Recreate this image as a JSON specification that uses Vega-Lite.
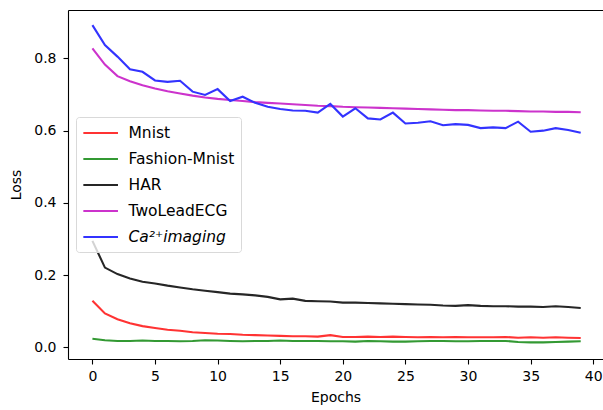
{
  "$schema": "https://vega.github.io/schema/vega-lite/v6.json",
  "width": 535,
  "height": 349,
  "autosize": {"type": "none"},
  "padding": {"left": 68, "top": 10, "right": 0, "bottom": 51},
  "background": "white",
  "config": {
    "view": {"stroke": null},
    "font": "DejaVu Sans",
    "axis": {
      "domainColor": "black",
      "domainWidth": 1.1,
      "tickColor": "black",
      "tickWidth": 1.1,
      "tickSize": 5,
      "labelFont": "DejaVu Sans",
      "labelFontSize": 14,
      "labelColor": "black",
      "titleFont": "DejaVu Sans",
      "titleFontSize": 14,
      "titleFontWeight": "normal",
      "titleColor": "black",
      "grid": false
    }
  },
  "data": {
    "values": [
      {"epoch": 0, "Mnist": 0.129, "FashionMnist": 0.024, "HAR": 0.295, "TwoLeadECG": 0.828, "Ca": 0.892},
      {"epoch": 1, "Mnist": 0.094, "FashionMnist": 0.020, "HAR": 0.221, "TwoLeadECG": 0.783, "Ca": 0.837},
      {"epoch": 2, "Mnist": 0.078, "FashionMnist": 0.018, "HAR": 0.203, "TwoLeadECG": 0.751, "Ca": 0.805},
      {"epoch": 3, "Mnist": 0.067, "FashionMnist": 0.018, "HAR": 0.191, "TwoLeadECG": 0.737, "Ca": 0.770},
      {"epoch": 4, "Mnist": 0.059, "FashionMnist": 0.019, "HAR": 0.182, "TwoLeadECG": 0.726, "Ca": 0.763},
      {"epoch": 5, "Mnist": 0.054, "FashionMnist": 0.018, "HAR": 0.177, "TwoLeadECG": 0.717, "Ca": 0.739},
      {"epoch": 6, "Mnist": 0.049, "FashionMnist": 0.018, "HAR": 0.171, "TwoLeadECG": 0.709, "Ca": 0.735},
      {"epoch": 7, "Mnist": 0.046, "FashionMnist": 0.017, "HAR": 0.166, "TwoLeadECG": 0.703, "Ca": 0.738},
      {"epoch": 8, "Mnist": 0.042, "FashionMnist": 0.018, "HAR": 0.161, "TwoLeadECG": 0.697, "Ca": 0.708},
      {"epoch": 9, "Mnist": 0.040, "FashionMnist": 0.020, "HAR": 0.157, "TwoLeadECG": 0.692, "Ca": 0.699},
      {"epoch": 10, "Mnist": 0.038, "FashionMnist": 0.019, "HAR": 0.153, "TwoLeadECG": 0.688, "Ca": 0.715},
      {"epoch": 11, "Mnist": 0.037, "FashionMnist": 0.018, "HAR": 0.149, "TwoLeadECG": 0.685, "Ca": 0.682},
      {"epoch": 12, "Mnist": 0.035, "FashionMnist": 0.017, "HAR": 0.147, "TwoLeadECG": 0.682, "Ca": 0.694},
      {"epoch": 13, "Mnist": 0.034, "FashionMnist": 0.018, "HAR": 0.144, "TwoLeadECG": 0.679, "Ca": 0.677},
      {"epoch": 14, "Mnist": 0.033, "FashionMnist": 0.018, "HAR": 0.140, "TwoLeadECG": 0.677, "Ca": 0.666},
      {"epoch": 15, "Mnist": 0.032, "FashionMnist": 0.019, "HAR": 0.133, "TwoLeadECG": 0.675, "Ca": 0.660},
      {"epoch": 16, "Mnist": 0.031, "FashionMnist": 0.018, "HAR": 0.135, "TwoLeadECG": 0.673, "Ca": 0.656},
      {"epoch": 17, "Mnist": 0.031, "FashionMnist": 0.018, "HAR": 0.129, "TwoLeadECG": 0.671, "Ca": 0.655},
      {"epoch": 18, "Mnist": 0.030, "FashionMnist": 0.018, "HAR": 0.128, "TwoLeadECG": 0.669, "Ca": 0.650},
      {"epoch": 19, "Mnist": 0.034, "FashionMnist": 0.017, "HAR": 0.127, "TwoLeadECG": 0.668, "Ca": 0.674},
      {"epoch": 20, "Mnist": 0.029, "FashionMnist": 0.017, "HAR": 0.124, "TwoLeadECG": 0.666, "Ca": 0.639},
      {"epoch": 21, "Mnist": 0.029, "FashionMnist": 0.016, "HAR": 0.124, "TwoLeadECG": 0.665, "Ca": 0.662},
      {"epoch": 22, "Mnist": 0.030, "FashionMnist": 0.018, "HAR": 0.123, "TwoLeadECG": 0.664, "Ca": 0.634},
      {"epoch": 23, "Mnist": 0.029, "FashionMnist": 0.017, "HAR": 0.122, "TwoLeadECG": 0.663, "Ca": 0.631},
      {"epoch": 24, "Mnist": 0.030, "FashionMnist": 0.016, "HAR": 0.121, "TwoLeadECG": 0.662, "Ca": 0.650},
      {"epoch": 25, "Mnist": 0.029, "FashionMnist": 0.016, "HAR": 0.120, "TwoLeadECG": 0.661, "Ca": 0.620},
      {"epoch": 26, "Mnist": 0.028, "FashionMnist": 0.017, "HAR": 0.119, "TwoLeadECG": 0.660, "Ca": 0.622},
      {"epoch": 27, "Mnist": 0.029, "FashionMnist": 0.018, "HAR": 0.118, "TwoLeadECG": 0.659, "Ca": 0.626},
      {"epoch": 28, "Mnist": 0.028, "FashionMnist": 0.018, "HAR": 0.116, "TwoLeadECG": 0.658, "Ca": 0.615},
      {"epoch": 29, "Mnist": 0.029, "FashionMnist": 0.017, "HAR": 0.115, "TwoLeadECG": 0.657, "Ca": 0.618},
      {"epoch": 30, "Mnist": 0.028, "FashionMnist": 0.017, "HAR": 0.117, "TwoLeadECG": 0.657, "Ca": 0.616},
      {"epoch": 31, "Mnist": 0.028, "FashionMnist": 0.018, "HAR": 0.115, "TwoLeadECG": 0.656, "Ca": 0.607},
      {"epoch": 32, "Mnist": 0.028, "FashionMnist": 0.018, "HAR": 0.114, "TwoLeadECG": 0.655, "Ca": 0.609},
      {"epoch": 33, "Mnist": 0.029, "FashionMnist": 0.018, "HAR": 0.114, "TwoLeadECG": 0.655, "Ca": 0.607},
      {"epoch": 34, "Mnist": 0.027, "FashionMnist": 0.015, "HAR": 0.113, "TwoLeadECG": 0.654, "Ca": 0.625},
      {"epoch": 35, "Mnist": 0.028, "FashionMnist": 0.014, "HAR": 0.113, "TwoLeadECG": 0.653, "Ca": 0.597},
      {"epoch": 36, "Mnist": 0.027, "FashionMnist": 0.014, "HAR": 0.112, "TwoLeadECG": 0.653, "Ca": 0.600},
      {"epoch": 37, "Mnist": 0.028, "FashionMnist": 0.015, "HAR": 0.114, "TwoLeadECG": 0.652, "Ca": 0.607},
      {"epoch": 38, "Mnist": 0.027, "FashionMnist": 0.016, "HAR": 0.112, "TwoLeadECG": 0.652, "Ca": 0.602},
      {"epoch": 39, "Mnist": 0.026, "FashionMnist": 0.017, "HAR": 0.109, "TwoLeadECG": 0.651, "Ca": 0.594}
    ]
  },
  "transform": [
    {"fold": ["Mnist", "FashionMnist", "HAR", "TwoLeadECG", "Ca"], "as": ["series", "loss"]}
  ],
  "layer": [
    {
      "mark": {"type": "line", "strokeWidth": 2.1},
      "encoding": {
        "x": {
          "field": "epoch",
          "type": "quantitative",
          "scale": {"domain": [-1.95, 40.78], "nice": false, "zero": false},
          "axis": {"values": [0, 5, 10, 15, 20, 25, 30, 35, 40], "title": "Epochs", "labelPadding": 5, "titlePadding": 7}
        },
        "y": {
          "field": "loss",
          "type": "quantitative",
          "scale": {"domain": [-0.032, 0.934], "nice": false, "zero": false},
          "axis": {"values": [0, 0.2, 0.4, 0.6, 0.8], "format": ".1f", "title": "Loss", "labelPadding": 7, "titlePadding": 10}
        },
        "color": {
          "field": "series",
          "type": "nominal",
          "scale": {
            "domain": ["Mnist", "FashionMnist", "HAR", "TwoLeadECG", "Ca"],
            "range": ["#ff3333", "#339933", "#262626", "#cc33cc", "#3333ff"]
          },
          "legend": {
            "orient": "none",
            "legendX": 8,
            "legendY": 107,
            "title": null,
            "symbolType": "M-1,0H3",
            "symbolSize": 300,
            "symbolStrokeWidth": 2.2,
            "labelFont": "DejaVu Sans",
            "labelFontSize": 15.5,
            "labelColor": "black",
            "labelOffset": 26.5,
            "rowPadding": 7,
            "padding": 6,
            "strokeColor": "#d9d9d9",
            "fillColor": "rgba(255,255,255,0.8)",
            "cornerRadius": 3,
            "labelExpr": "datum.value === 'FashionMnist' ? 'Fashion-Mnist' : datum.value === 'Ca' ? 'Ca²⁺imaging' : datum.value",
            "encode": {
              "labels": {
                "update": {
                  "fontStyle": {"signal": "datum.value === 'Ca' ? 'italic' : 'normal'"}
                }
              }
            }
          }
        }
      }
    },
    {
      "mark": {"type": "line", "opacity": 0},
      "encoding": {
        "x": {
          "field": "epoch",
          "type": "quantitative",
          "axis": {"orient": "top", "labels": false, "ticks": false, "title": null}
        },
        "y": {"field": "loss", "type": "quantitative"},
        "detail": {"field": "series"}
      }
    }
  ],
  "resolve": {"axis": {"x": "independent"}}
}
